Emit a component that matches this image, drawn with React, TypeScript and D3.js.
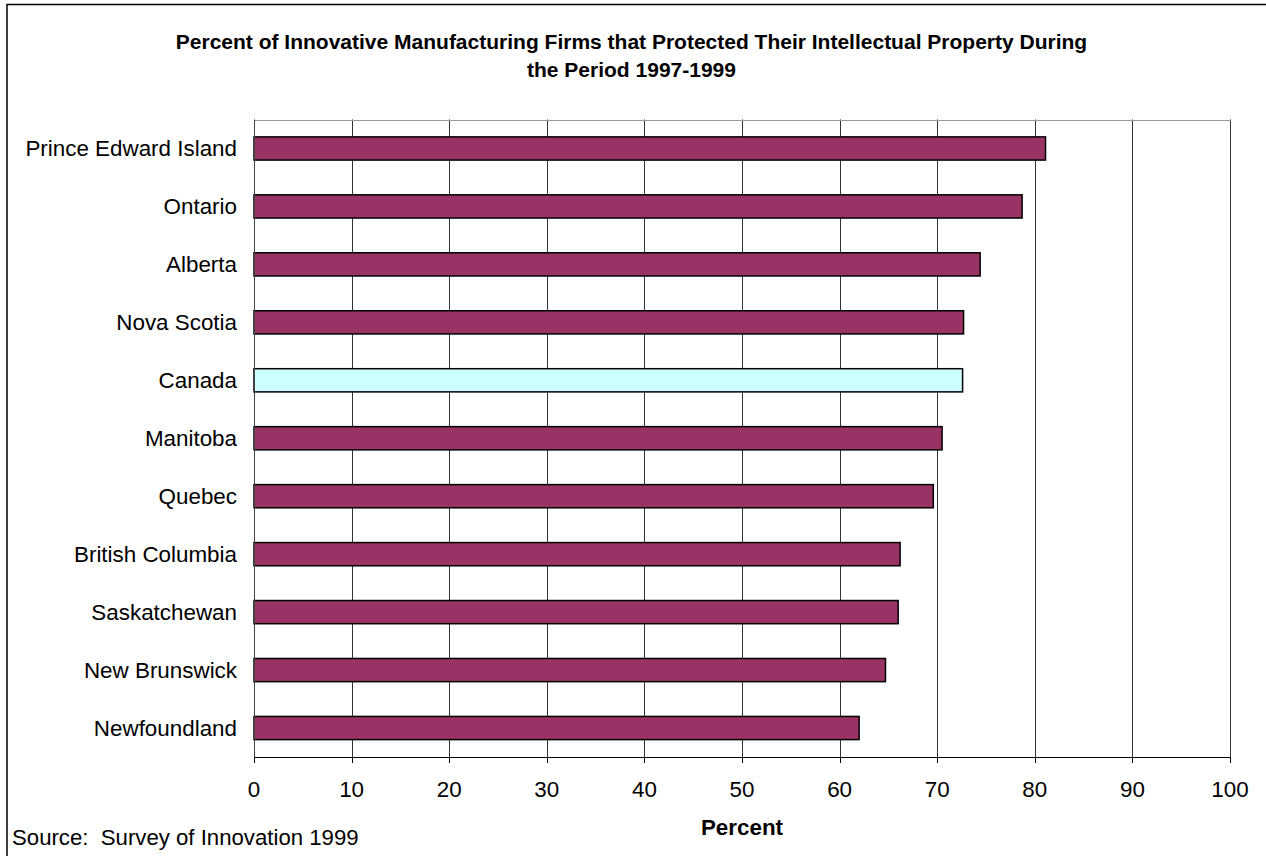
import React from "react";
import * as d3 from "d3";

const titleLines = [
  "Percent of Innovative Manufacturing Firms that Protected Their Intellectual Property During",
  "the Period 1997-1999",
];
const categories = [
  "Prince Edward Island",
  "Ontario",
  "Alberta",
  "Nova Scotia",
  "Canada",
  "Manitoba",
  "Quebec",
  "British Columbia",
  "Saskatchewan",
  "New Brunswick",
  "Newfoundland",
];
const values = [81.1, 78.7, 74.4, 72.7, 72.6, 70.5, 69.6, 66.2, 66.0, 64.7, 62.0];
const highlight = "Canada";
const xTicks = [0, 10, 20, 30, 40, 50, 60, 70, 80, 90, 100];
const xLabel = "Percent";
const source = "Source:  Survey of Innovation 1999";

export default function App() {
  const W = 1266, H = 856;
  const left = 254, right = 1230, top = 119.5, bottom = 757;
  const x = d3.scaleLinear().domain([0, 100]).range([left, right]);
  const y = d3.scaleBand<string>().domain(categories).range([top, bottom]).paddingInner(0.6).paddingOuter(0.3);
  const font = "Arial, 'Liberation Sans', sans-serif";
  const cx = (left + right) / 2;
  const snap = (v: number) => Math.round(v) + 0.5;
  const fs = 22.4;

  return (
    <svg width={W} height={H} style={{ position: "absolute", left: 0, top: 0, background: "#fff" }} fontFamily={font}>
      <rect x={7} y={4.5} width={1300} height={900} fill="#fff" stroke="#000" strokeWidth={1.5} />
      {titleLines.map((t, i) => (
        <text key={i} x={631.5} y={48.5 + i * 28.7} textAnchor="middle" fontSize={21} fontWeight="bold" fill="#000">
          {t}
        </text>
      ))}
      {/* gridlines */}
      {xTicks.slice(1).map((t) => (
        <line key={t} x1={snap(x(t))} x2={snap(x(t))} y1={top} y2={bottom} stroke="#333" strokeWidth={1} />
      ))}
      {/* plot frame */}
      <line x1={left} x2={right + 1} y1={snap(top)} y2={snap(top)} stroke="#999" strokeWidth={1} />
      {/* bars */}
      {categories.map((c, i) => (
        <rect
          key={c}
          x={x(0)}
          y={y(c)!}
          width={x(values[i]) - x(0)}
          height={y.bandwidth()}
          fill={c === highlight ? "#CCFFFF" : "#993366"}
          stroke="#000"
          strokeWidth={1.5}
        />
      ))}
      {/* axes */}
      <line x1={snap(left)} x2={snap(left)} y1={top} y2={bottom} stroke="#444" strokeWidth={1} />
      <line x1={left} x2={right + 1} y1={snap(bottom)} y2={snap(bottom)} stroke="#000" strokeWidth={1} />
      {xTicks.map((t) => (
        <g key={t}>
          <line x1={snap(x(t))} x2={snap(x(t))} y1={bottom} y2={bottom + 6} stroke="#000" strokeWidth={1} />
          <text x={x(t)} y={797} textAnchor="middle" fontSize={fs} fill="#000">
            {t}
          </text>
        </g>
      ))}
      {categories.map((c) => (
        <text key={c} x={237} y={y(c)! + y.bandwidth() / 2 + 8} textAnchor="end" fontSize={fs} fill="#000">
          {c}
        </text>
      ))}
      <text x={cx} y={835} textAnchor="middle" fontSize={fs} fontWeight="bold" fill="#000">
        {xLabel}
      </text>
      <text x={12} y={845} fontSize={22.2} fill="#000" xmlSpace="preserve" style={{ whiteSpace: "pre" }}>
        {source}
      </text>
    </svg>
  );
}
